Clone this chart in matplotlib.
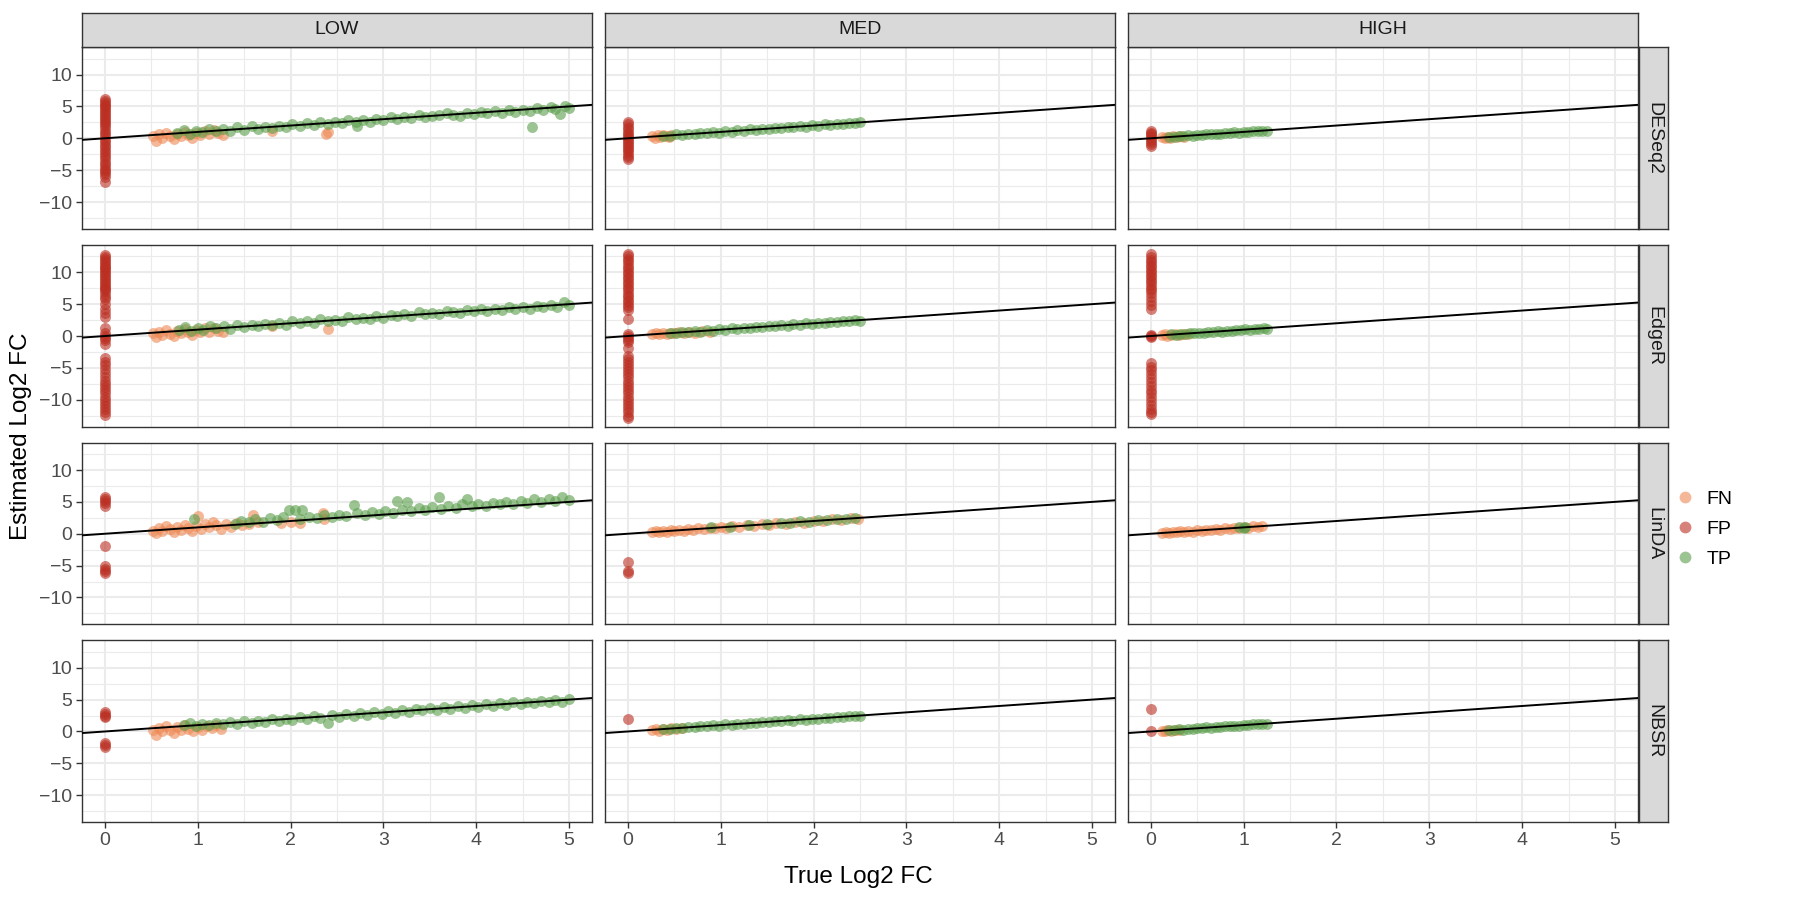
import matplotlib
matplotlib.use("Agg")
import matplotlib.pyplot as plt
from matplotlib.lines import Line2D

# ---- data (true vs estimated log2 FC) ----
levels = ["LOW", "MED", "HIGH"]
methods = ["DESeq2", "EdgeR", "LinDA", "NBSR"]
status = ["FN", "FP", "TP"]
x_ticks = [0, 1, 2, 3, 4, 5]
y_ticks = [-10, -5, 0, 5, 10]

# DESeq2
deseq2_low_fn = [(0.52, 0.3), (0.55, -0.4), (0.58, 0.6), (0.62, 0.1), (0.66, 0.9), (0.7, 0.4), (0.74, -0.1),
                 (0.78, 0.7), (0.82, 0.3), (0.86, 1.0), (0.9, 0.5), (0.94, 0.1), (0.98, 0.8), (1.02, 0.5),
                 (1.08, 1.1), (1.12, 0.6), (1.18, 1.3), (1.22, 0.9), (1.27, 0.5), (1.8, 1.1), (2.38, 0.75),
                 (2.4, 1.0)]
deseq2_low_tp = [(0.78, 0.9), (0.85, 1.3), (0.92, 0.7), (0.98, 1.2), (1.05, 1.0), (1.12, 1.5), (1.2, 1.1),
                 (1.27, 1.4), (1.35, 1.2), (1.42, 1.7), (1.5, 1.3), (1.58, 1.9), (1.65, 1.5), (1.72, 1.8),
                 (1.8, 1.6), (1.88, 2.0), (1.95, 1.8), (2.02, 2.2), (2.1, 1.9), (2.18, 2.4), (2.25, 2.1),
                 (2.32, 2.5), (2.4, 2.2), (2.48, 2.6), (2.55, 2.4), (2.62, 2.9), (2.7, 2.6), (2.72, 1.9),
                 (2.78, 2.8), (2.85, 2.5), (2.92, 3.1), (3.0, 2.9), (3.08, 3.3), (3.15, 3.0), (3.22, 3.4),
                 (3.3, 3.2), (3.38, 3.7), (3.45, 3.3), (3.52, 3.5), (3.6, 3.6), (3.68, 3.9), (3.75, 3.7),
                 (3.82, 3.5), (3.9, 4.0), (3.98, 3.8), (4.05, 4.1), (4.12, 3.9), (4.2, 4.3), (4.28, 4.0),
                 (4.35, 4.4), (4.42, 4.2), (4.5, 4.5), (4.58, 4.3), (4.6, 1.8), (4.65, 4.7), (4.72, 4.4),
                 (4.8, 4.9), (4.85, 4.6), (4.9, 3.8), (4.95, 5.1), (5.0, 4.8)]
deseq2_low_fp = [6.2, 5.9, 5.6, 5.3, 5.0, 4.7, 4.4, 4.1, 3.8, 3.5, 3.2, 2.9, 2.6, 2.3, 2.0, 1.5, 1.0, 0.6, 0.2,
                 -0.2, -0.6, -1.0, -1.4, -1.8, -2.2, -2.6, -3.0, -3.4, -3.8, -4.2, -4.6, -5.0, -5.3, -5.6,
                 -6.0, -6.8]
deseq2_med_fn = [(0.26, 0.3), (0.29, 0.05), (0.32, 0.45), (0.35, 0.2), (0.38, 0.55), (0.41, 0.3),
                 (0.44, 0.15), (0.47, 0.5)]
deseq2_med_tp = [(0.38, 0.42), (0.45, 0.35), (0.52, 0.6), (0.58, 0.5), (0.65, 0.72), (0.72, 0.62),
                 (0.78, 0.85), (0.85, 0.78), (0.92, 1.0), (0.98, 0.9), (1.05, 1.12), (1.12, 1.02),
                 (1.18, 1.25), (1.25, 1.15), (1.32, 1.4), (1.38, 1.3), (1.45, 1.52), (1.52, 1.42),
                 (1.58, 1.65), (1.65, 1.55), (1.72, 1.78), (1.78, 1.7), (1.85, 1.9), (1.92, 1.82),
                 (1.98, 2.05), (2.05, 1.95), (2.12, 2.2), (2.18, 2.1), (2.25, 2.3), (2.32, 2.22),
                 (2.38, 2.45), (2.45, 2.35), (2.5, 2.5)]
deseq2_med_fp = [2.6, 2.2, 1.8, 1.4, 1.0, 0.6, 0.3, 0.0, -0.3, -0.6, -0.9, -1.2, -1.5, -1.8, -2.2, -2.6,
                 -3.0, -3.3]
deseq2_high_fn = [(0.12, 0.15), (0.15, 0.0), (0.18, 0.25), (0.21, 0.1), (0.24, 0.3), (0.28, 0.15),
                  (0.32, 0.3), (0.36, 0.2)]
deseq2_high_tp = [(0.2, 0.25), (0.25, 0.2), (0.3, 0.35), (0.35, 0.3), (0.4, 0.45), (0.45, 0.4), (0.5, 0.55),
                  (0.55, 0.5), (0.6, 0.65), (0.65, 0.6), (0.7, 0.75), (0.75, 0.7), (0.8, 0.85), (0.85, 0.8),
                  (0.9, 0.95), (0.95, 0.9), (1.0, 1.05), (1.05, 1.0), (1.1, 1.15), (1.15, 1.1), (1.2, 1.2),
                  (1.25, 1.2)]
deseq2_high_fp = [1.2, 0.9, 0.6, 0.3, 0.0, -0.3, -0.6, -0.9, -1.2]

# EdgeR
edger_low_fn = [(0.52, 0.4), (0.55, -0.2), (0.58, 0.7), (0.62, 0.2), (0.66, 0.9), (0.7, 0.3), (0.74, 0.0),
                (0.78, 0.8), (0.82, 0.4), (0.86, 1.1), (0.9, 0.6), (0.94, 0.2), (0.98, 0.9), (1.02, 0.6),
                (1.08, 1.2), (1.12, 0.7), (1.18, 1.2), (1.22, 0.8), (1.27, 0.6), (1.8, 1.5), (2.4, 1.15)]
edger_low_tp = [(0.8, 1.0), (0.86, 1.4), (0.93, 0.8), (1.0, 1.3), (1.06, 1.0), (1.13, 1.5), (1.2, 1.2),
                (1.28, 1.5), (1.35, 1.1), (1.42, 1.8), (1.5, 1.4), (1.58, 1.8), (1.65, 1.5), (1.72, 1.9),
                (1.8, 1.7), (1.88, 2.1), (1.95, 1.8), (2.02, 2.3), (2.1, 2.0), (2.18, 2.3), (2.25, 2.0),
                (2.32, 2.6), (2.4, 2.3), (2.48, 2.5), (2.55, 2.3), (2.62, 3.0), (2.7, 2.7), (2.78, 2.8),
                (2.85, 2.6), (2.92, 3.2), (3.0, 2.9), (3.08, 3.3), (3.15, 3.1), (3.22, 3.5), (3.3, 3.2),
                (3.38, 3.7), (3.45, 3.4), (3.52, 3.6), (3.6, 3.5), (3.68, 4.0), (3.75, 3.7), (3.82, 3.6),
                (3.9, 4.1), (3.98, 3.9), (4.05, 4.2), (4.12, 3.9), (4.2, 4.3), (4.28, 4.1), (4.35, 4.5),
                (4.42, 4.2), (4.5, 4.6), (4.58, 4.3), (4.65, 4.7), (4.72, 4.5), (4.8, 4.9), (4.87, 4.6),
                (4.94, 5.3), (5.0, 4.9)]
edger_low_fp = [12.7, 12.4, 12.1, 11.8, 11.5, 11.2, 10.9, 10.6, 10.3, 10.0, 9.7, 9.4, 9.1, 8.8, 8.5, 8.2,
                7.9, 7.6, 7.3, 7.0, 6.6, 6.2, 5.8, 5.0, 4.3, 3.6, 3.0, 1.3, 0.4, 0.0, -0.3, -0.6, -1.2,
                -3.5, -4.0, -4.6, -5.2, -5.8, -6.4, -7.0, -7.5, -8.0, -8.5, -9.0, -9.5, -10.0, -10.5,
                -11.0, -11.5, -12.0, -12.4]
edger_med_fn = [(0.26, 0.3), (0.3, 0.45), (0.34, 0.25), (0.38, 0.5), (0.42, 0.35), (0.46, 0.55),
                (0.5, 0.4), (0.55, 0.6), (0.6, 0.5), (0.66, 0.7), (0.72, 0.55), (0.8, 0.75), (0.88, 0.7)]
edger_med_tp = [(0.45, 0.5), (0.52, 0.45), (0.58, 0.62), (0.65, 0.58), (0.72, 0.78), (0.78, 0.7),
                (0.85, 0.9), (0.92, 0.85), (0.98, 1.05), (1.05, 0.98), (1.12, 1.18), (1.18, 1.1),
                (1.25, 1.3), (1.32, 1.25), (1.38, 1.45), (1.45, 1.38), (1.52, 1.58), (1.58, 1.5),
                (1.65, 1.7), (1.72, 1.65), (1.78, 1.85), (1.85, 1.78), (1.92, 1.98), (1.98, 1.9),
                (2.05, 2.12), (2.12, 2.05), (2.18, 2.25), (2.25, 2.18), (2.32, 2.4), (2.38, 2.32),
                (2.45, 2.5), (2.5, 2.42)]
edger_med_fp = [12.9, 12.5, 12.1, 11.7, 11.3, 10.9, 10.5, 10.1, 9.7, 9.3, 8.9, 8.5, 8.1, 7.7, 7.3, 6.9,
                6.5, 6.1, 5.7, 5.3, 4.9, 4.5, 4.1, 2.7, 0.35, 0.0, -0.3, -0.6, -0.9, -1.9, -3.2, -3.6,
                -4.0, -4.5, -5.0, -5.5, -6.0, -6.5, -7.0, -7.5, -8.0, -8.5, -9.0, -9.5, -10.0, -10.5,
                -11.0, -11.5, -12.0, -12.5, -12.9]
edger_high_fn = [(0.12, 0.1), (0.15, 0.25), (0.18, 0.05), (0.22, 0.2), (0.26, 0.3), (0.3, 0.15),
                 (0.35, 0.35), (0.4, 0.3)]
edger_high_tp = [(0.22, 0.25), (0.27, 0.2), (0.32, 0.35), (0.37, 0.3), (0.42, 0.45), (0.47, 0.4),
                 (0.52, 0.55), (0.57, 0.5), (0.62, 0.65), (0.67, 0.6), (0.72, 0.75), (0.77, 0.7),
                 (0.82, 0.85), (0.87, 0.8), (0.92, 0.95), (0.97, 0.9), (1.02, 1.05), (1.07, 1.0),
                 (1.12, 1.15), (1.17, 1.1), (1.22, 1.2), (1.25, 1.15)]
edger_high_fp = [12.8, 12.4, 12.0, 11.6, 11.2, 10.8, 10.4, 10.0, 9.6, 9.2, 8.8, 8.4, 8.0, 7.6, 7.2, 6.8,
                 6.2, 5.5, 4.8, 4.3, 0.2, 0.0, -0.2, -4.2, -4.8, -5.4, -6.0, -6.6, -7.2, -7.8, -8.4, -9.0,
                 -9.6, -10.2, -10.8, -11.4, -12.0, -12.3]

# LinDA
linda_low_fn = [(0.52, 0.5), (0.55, 0.1), (0.58, 0.9), (0.62, 0.4), (0.66, 1.2), (0.7, 0.7), (0.74, 0.2),
                (0.78, 1.0), (0.82, 0.6), (0.86, 1.4), (0.9, 0.9), (0.94, 0.4), (0.98, 1.2), (1.0, 2.75),
                (1.04, 0.8), (1.08, 1.6), (1.12, 1.0), (1.16, 1.8), (1.2, 1.3), (1.25, 0.7), (1.3, 1.5),
                (1.36, 1.1), (1.42, 1.7), (1.48, 1.3), (1.55, 1.6), (1.6, 3.0), (1.65, 1.9), (1.9, 1.75),
                (2.0, 1.9), (2.1, 1.7), (2.35, 3.25), (2.36, 2.25)]
linda_low_tp = [(0.96, 2.25), (1.4, 1.6), (1.47, 2.0), (1.55, 1.8), (1.62, 2.3), (1.7, 1.9), (1.78, 2.4),
                (1.85, 2.1), (1.92, 2.6), (1.98, 3.75), (2.05, 3.8), (2.1, 2.3), (2.12, 3.75), (2.2, 2.7),
                (2.28, 2.4), (2.36, 2.9), (2.45, 2.7), (2.52, 3.0), (2.6, 2.8), (2.68, 4.5), (2.72, 3.3),
                (2.8, 3.0), (2.88, 3.4), (2.95, 3.1), (3.02, 3.6), (3.1, 3.3), (3.15, 5.1), (3.2, 3.8),
                (3.25, 5.0), (3.3, 3.5), (3.38, 4.0), (3.45, 3.7), (3.52, 4.2), (3.6, 5.75), (3.62, 3.9),
                (3.7, 4.4), (3.78, 4.1), (3.85, 4.6), (3.9, 5.5), (3.95, 4.3), (4.02, 4.7), (4.1, 4.4),
                (4.18, 4.9), (4.25, 4.6), (4.32, 5.0), (4.4, 4.7), (4.48, 5.2), (4.55, 4.9), (4.62, 5.4),
                (4.7, 5.0), (4.78, 5.5), (4.85, 5.2), (4.92, 5.7), (5.0, 5.3)]
linda_low_fp = [5.8, 5.5, 5.2, 4.9, 4.3, -2.0, -5.0, -5.5, -5.8, -6.1]
linda_med_fn = [(0.26, 0.25), (0.3, 0.45), (0.34, 0.3), (0.38, 0.5), (0.42, 0.35), (0.46, 0.6), (0.5, 0.45),
                (0.55, 0.65), (0.6, 0.5), (0.65, 0.75), (0.7, 0.6), (0.76, 0.85), (0.82, 0.7), (0.88, 0.95),
                (0.94, 0.85), (1.0, 1.1), (1.06, 0.95), (1.12, 1.2), (1.2, 1.1), (1.28, 1.35), (1.36, 1.25),
                (1.44, 1.5), (1.52, 1.4), (1.6, 1.65), (1.7, 1.6), (1.8, 1.85), (1.9, 1.75), (2.0, 2.05),
                (2.1, 1.95), (2.2, 2.25), (2.3, 2.15), (2.4, 2.4), (2.48, 2.3)]
linda_med_tp = [(0.9, 1.0), (1.1, 1.05), (1.3, 1.4), (1.5, 1.5), (1.65, 1.7), (1.75, 1.75), (1.85, 1.95),
                (1.95, 1.9), (2.05, 2.15), (2.15, 2.1), (2.25, 2.35), (2.35, 2.3), (2.45, 2.5)]
linda_med_fp = [-4.5, -5.8, -6.2]
linda_high_fn = [(0.12, 0.1), (0.16, 0.25), (0.2, 0.1), (0.24, 0.3), (0.28, 0.2), (0.32, 0.4), (0.36, 0.3),
                 (0.4, 0.45), (0.45, 0.35), (0.5, 0.55), (0.55, 0.45), (0.6, 0.65), (0.65, 0.55), (0.7, 0.75),
                 (0.75, 0.65), (0.8, 0.85), (0.85, 0.75), (0.9, 0.95), (0.95, 0.85), (1.0, 1.05),
                 (1.05, 0.95), (1.1, 1.15), (1.15, 1.05), (1.2, 1.2)]
linda_high_tp = [(0.95, 1.0), (1.0, 0.95), (1.02, 1.05)]
linda_high_fp = []

# NBSR
nbsr_low_fn = [(0.52, 0.2), (0.55, -0.5), (0.58, 0.6), (0.62, 0.0), (0.66, 0.8), (0.7, 0.3), (0.74, -0.2),
               (0.78, 0.7), (0.82, 0.2), (0.86, 1.0), (0.9, 0.4), (0.95, 0.0), (1.0, 0.7), (1.05, 0.3),
               (1.1, 0.9), (1.15, 0.5), (1.2, 1.0), (1.25, 0.4)]
nbsr_low_tp = [(0.85, 1.0), (0.92, 1.3), (0.98, 0.9), (1.05, 1.2), (1.12, 1.0), (1.2, 1.4), (1.27, 1.2),
               (1.35, 1.5), (1.42, 1.2), (1.5, 1.6), (1.58, 1.4), (1.65, 1.7), (1.72, 1.5), (1.8, 1.9),
               (1.88, 1.7), (1.95, 2.0), (2.02, 1.8), (2.1, 2.2), (2.18, 2.0), (2.25, 2.4), (2.32, 2.1),
               (2.4, 1.3), (2.45, 2.6), (2.52, 2.3), (2.6, 2.7), (2.68, 2.5), (2.75, 2.9), (2.82, 2.6),
               (2.9, 3.0), (2.98, 2.8), (3.05, 3.2), (3.12, 2.9), (3.2, 3.4), (3.28, 3.1), (3.35, 3.6),
               (3.42, 3.3), (3.5, 3.7), (3.58, 3.4), (3.65, 3.9), (3.72, 3.6), (3.8, 4.0), (3.88, 3.7),
               (3.95, 4.1), (4.02, 3.9), (4.1, 4.3), (4.18, 4.0), (4.25, 4.4), (4.32, 4.2), (4.4, 4.6),
               (4.48, 4.3), (4.55, 4.7), (4.62, 4.4), (4.7, 4.8), (4.78, 4.6), (4.85, 5.0), (4.92, 4.7),
               (5.0, 5.1)]
nbsr_low_fp = [3.0, 2.7, 2.4, 2.2, -1.8, -2.1, -2.4]
nbsr_med_fn = [(0.26, 0.2), (0.3, 0.4), (0.34, 0.15), (0.38, 0.45), (0.42, 0.3), (0.46, 0.5), (0.52, 0.35),
               (0.58, 0.55)]
nbsr_med_tp = [(0.38, 0.45), (0.45, 0.38), (0.52, 0.58), (0.58, 0.52), (0.65, 0.7), (0.72, 0.65),
               (0.78, 0.82), (0.85, 0.8), (0.92, 0.98), (0.98, 0.92), (1.05, 1.1), (1.12, 1.05),
               (1.18, 1.22), (1.25, 1.18), (1.32, 1.38), (1.38, 1.32), (1.45, 1.5), (1.52, 1.45),
               (1.58, 1.62), (1.65, 1.58), (1.72, 1.75), (1.78, 1.72), (1.85, 1.88), (1.92, 1.85),
               (1.98, 2.02), (2.05, 1.98), (2.12, 2.15), (2.18, 2.12), (2.25, 2.28), (2.32, 2.25),
               (2.38, 2.42), (2.45, 2.38), (2.5, 2.5)]
nbsr_med_fp = [2.0]
nbsr_high_fn = [(0.12, 0.15), (0.15, 0.0), (0.18, 0.25), (0.22, 0.1), (0.26, 0.3), (0.3, 0.2)]
nbsr_high_tp = [(0.2, 0.22), (0.25, 0.18), (0.3, 0.33), (0.35, 0.3), (0.4, 0.43), (0.45, 0.4), (0.5, 0.53),
                (0.55, 0.5), (0.6, 0.63), (0.65, 0.6), (0.7, 0.73), (0.75, 0.7), (0.8, 0.83), (0.85, 0.8),
                (0.9, 0.93), (0.95, 0.9), (1.0, 1.03), (1.05, 1.0), (1.1, 1.13), (1.15, 1.1), (1.2, 1.2),
                (1.25, 1.18)]
nbsr_high_fp = [3.6, 0.0]

panel_data = {
    ("DESeq2", "LOW"): (deseq2_low_fn, deseq2_low_fp, deseq2_low_tp),
    ("DESeq2", "MED"): (deseq2_med_fn, deseq2_med_fp, deseq2_med_tp),
    ("DESeq2", "HIGH"): (deseq2_high_fn, deseq2_high_fp, deseq2_high_tp),
    ("EdgeR", "LOW"): (edger_low_fn, edger_low_fp, edger_low_tp),
    ("EdgeR", "MED"): (edger_med_fn, edger_med_fp, edger_med_tp),
    ("EdgeR", "HIGH"): (edger_high_fn, edger_high_fp, edger_high_tp),
    ("LinDA", "LOW"): (linda_low_fn, linda_low_fp, linda_low_tp),
    ("LinDA", "MED"): (linda_med_fn, linda_med_fp, linda_med_tp),
    ("LinDA", "HIGH"): (linda_high_fn, linda_high_fp, linda_high_tp),
    ("NBSR", "LOW"): (nbsr_low_fn, nbsr_low_fp, nbsr_low_tp),
    ("NBSR", "MED"): (nbsr_med_fn, nbsr_med_fp, nbsr_med_tp),
    ("NBSR", "HIGH"): (nbsr_high_fn, nbsr_high_fp, nbsr_high_tp),
}

colors = {"FN": "#EE8A55", "FP": "#BB2F22", "TP": "#5A9E4B"}
alpha = 0.6
msize = 62

plt.rcParams['font.family'] = ['Liberation Sans', 'DejaVu Sans']
fig = plt.figure(figsize=(18, 9), dpi=100)

# layout (figure fractions)
left0, pw, gapx = 0.0454, 0.2837, 0.0068
top0, ph, gapy = 0.9476, 0.2018, 0.0179
strip_h, strip_w = 0.0383, 0.0160
border = "#333333"
fs = 14

for r, m in enumerate(methods):
    for c, lev in enumerate(levels):
        x0 = left0 + c * (pw + gapx)
        y0 = top0 - ph - r * (ph + gapy)
        ax = fig.add_axes([x0, y0, pw, ph])
        fn, fp, tp = panel_data[(m, lev)]
        ax.scatter([p[0] for p in fn], [p[1] for p in fn], s=msize, color=colors["FN"], alpha=alpha,
                   linewidths=0, zorder=3)
        ax.scatter([p[0] for p in tp], [p[1] for p in tp], s=msize, color=colors["TP"], alpha=alpha,
                   linewidths=0, zorder=3)
        ax.scatter([0] * len(fp), fp, s=msize, color=colors["FP"], alpha=alpha, linewidths=0, zorder=3)
        ax.axline((0, 0), slope=1, color="black", lw=1.4, zorder=4)
        ax.set_xlim(-0.25, 5.25)
        ax.set_ylim(-14.2, 14.3)
        ax.set_xticks(x_ticks)
        ax.set_yticks(y_ticks)
        ax.set_xticks([0.5, 1.5, 2.5, 3.5, 4.5], minor=True)
        ax.set_yticks([-12.5, -7.5, -2.5, 2.5, 7.5, 12.5], minor=True)
        ax.grid(which="major", color="#EBEBEB", lw=1.5, zorder=0)
        ax.grid(which="minor", color="#EBEBEB", lw=0.8, zorder=0)
        ax.set_axisbelow(True)
        for sp in ax.spines.values():
            sp.set_color(border)
            sp.set_linewidth(1.0)
        ax.tick_params(which="minor", length=0)
        ax.tick_params(which="major", length=4, width=1.0, color=border, labelcolor="#4D4D4D",
                       labelsize=fs, pad=3)
        if c != 0:
            ax.tick_params(axis="y", length=0, labelleft=False)
        if r != len(methods) - 1:
            ax.tick_params(axis="x", length=0, labelbottom=False)

        if r == 0:
            sax = fig.add_axes([x0, top0, pw, strip_h])
            sax.set_facecolor("#D9D9D9")
            sax.set_xticks([])
            sax.set_yticks([])
            for sp in sax.spines.values():
                sp.set_color(border)
                sp.set_linewidth(1.0)
            sax.text(0.5, 0.5, lev, ha="center", va="center", fontsize=fs, color="#1A1A1A",
                     transform=sax.transAxes)
        if c == len(levels) - 1:
            rax = fig.add_axes([x0 + pw + 0.0006, y0, strip_w, ph])
            rax.set_facecolor("#D9D9D9")
            rax.set_xticks([])
            rax.set_yticks([])
            for sp in rax.spines.values():
                sp.set_color(border)
                sp.set_linewidth(1.0)
            rax.text(0.5, 0.5, m, ha="center", va="center", rotation=-90, fontsize=fs,
                     color="#1A1A1A", transform=rax.transAxes)

fig.text(0.0115, 0.515, "Estimated Log2 FC", rotation=90, ha="center", va="center", fontsize=17.5)
fig.text(0.477, 0.026, "True Log2 FC", ha="center", va="center", fontsize=17.5)

handles = [Line2D([], [], marker="o", linestyle="", markersize=8.5, markerfacecolor=colors[s],
                  markeredgewidth=0, alpha=alpha, label=s) for s in status]
fig.legend(handles=handles, loc="center left", bbox_to_anchor=(0.92, 0.412), frameon=False,
           fontsize=fs, handletextpad=0.5, labelspacing=0.65, handlelength=1.2)

fig.savefig("out.png", dpi=100)
